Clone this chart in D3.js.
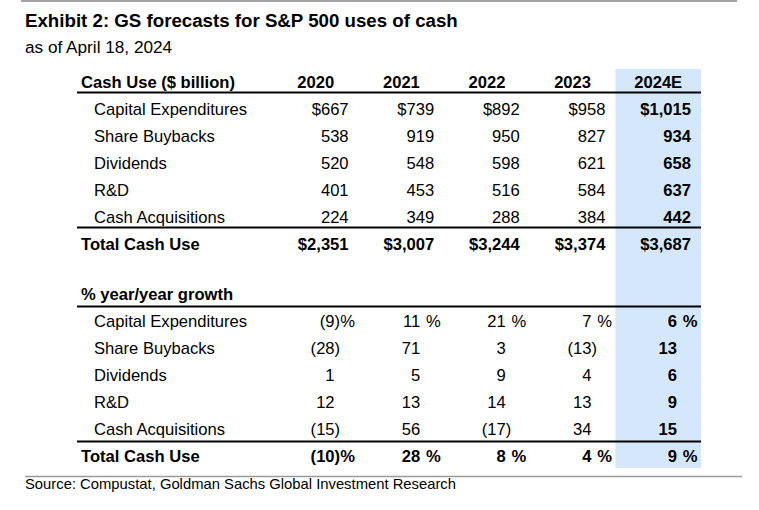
<!DOCTYPE html>
<html><head><meta charset="utf-8">
<script src="https://cdn.jsdelivr.net/npm/d3@7"></script>
<style>body{margin:0;background:#fff}svg{display:block}</style></head>
<body><svg id="c" width="759" height="510"></svg>
<script>
const years = ["2020", "2021", "2022", "2023", "2024E"];
const categories = ["Capital Expenditures", "Share Buybacks", "Dividends", "R&D", "Cash Acquisitions"];
// Cash use ($ billion)
const capex = [667, 739, 892, 958, 1015];
const buybacks = [538, 919, 950, 827, 934];
const dividends = [520, 548, 598, 621, 658];
const rnd = [401, 453, 516, 584, 637];
const acquisitions = [224, 349, 288, 384, 442];
const totals = [2351, 3007, 3244, 3374, 3687];
// % year/year growth
const capexGrowth = [-9, 11, 21, 7, 6];
const buybacksGrowth = [-28, 71, 3, -13, 13];
const dividendsGrowth = [1, 5, 9, 4, 6];
const rndGrowth = [12, 13, 14, 13, 9];
const acquisitionsGrowth = [-15, 56, -17, 34, 15];
const totalGrowth = [-10, 28, 8, 4, 9];

const cashRows = [capex, buybacks, dividends, rnd, acquisitions];
const growthRows = [capexGrowth, buybacksGrowth, dividendsGrowth, rndGrowth, acquisitionsGrowth];

const FONT = "'Liberation Sans', Arial, sans-serif";
const FS = 16.6;
const svg = d3.select("#c");
const fmt = d3.format(",");

const x = d3.scaleBand().domain(years).range([273, 701]);
const bw = x.bandwidth();
const rowKeys = ["head", ...categories, "Total"];
const yCash = d3.scalePoint().domain(rowKeys).range([88, 250]);
const yGrowth = d3.scalePoint().domain(rowKeys).range([300, 462]);

// highlight column
svg.append("rect")
  .attr("x", x("2024E")).attr("width", bw)
  .attr("y", 69).attr("height", 399)
  .attr("fill", "#d5e8fb");

// frame lines
svg.append("line").attr("x1", 21).attr("x2", 737).attr("y1", 1).attr("y2", 1)
  .attr("stroke", "#a3a3a3").attr("stroke-width", 2);
svg.append("line").attr("x1", 25).attr("x2", 742).attr("y1", 476.5).attr("y2", 476.5)
  .attr("stroke", "#9a9a9a").attr("stroke-width", 1.5);

function txt(t, px, py, opts = {}) {
  return svg.append("text")
    .attr("x", px).attr("y", py)
    .attr("font-family", FONT)
    .attr("font-size", opts.size || FS)
    .attr("font-weight", opts.bold ? "bold" : "normal")
    .attr("text-anchor", opts.anchor || "start")
    .attr("fill", "#000")
    .text(t);
}

// titles
txt("Exhibit 2: GS forecasts for S&P 500 uses of cash", 25, 27, {size: 18.7, bold: true});
txt("as of April 18, 2024", 25, 53, {size: 17.2});
txt("Source: Compustat, Goldman Sachs Global Investment Research", 25, 489, {size: 14.8});

function hline(y) {
  svg.append("line").attr("x1", 77).attr("x2", 701).attr("y1", y).attr("y2", y)
    .attr("stroke", "#000").attr("stroke-width", 2);
}

// ---- Cash use section ----
txt("Cash Use ($ billion)", 81, yCash("head"), {bold: true});
years.forEach(yr => txt(yr, x(yr) + bw / 2, yCash("head"), {bold: true, anchor: "middle"}));
hline(yCash("head") + 4.5);
categories.forEach((c, i) => {
  txt(c, 94, yCash(c));
  cashRows[i].forEach((v, j) => {
    const s = (i === 0 ? "$" : "") + fmt(v);
    txt(s, x(years[j]) + bw - 10, yCash(c), {anchor: "end", bold: years[j] === "2024E"});
  });
});
hline(yCash("Total") - 22.5);
txt("Total Cash Use", 81, yCash("Total"), {bold: true});
totals.forEach((v, j) => txt("$" + fmt(v), x(years[j]) + bw - 10, yCash("Total"), {anchor: "end", bold: true}));

// ---- Growth section ----
function growthCell(v, yr, py, withPct, bold) {
  const right = x(yr) + bw;
  const dx = right - 24;
  const n = Math.abs(v);
  txt((v < 0 ? "(" : "") + n, dx, py, {anchor: "end", bold});
  if (v < 0) txt(")", dx, py, {anchor: "start", bold});
  if (withPct) txt("%", right - 3.5, py, {anchor: "end", bold});
}
txt("% year/year growth", 81, yGrowth("head"), {bold: true});
hline(yGrowth("head") + 6.5);
categories.forEach((c, i) => {
  txt(c, 94, yGrowth(c));
  growthRows[i].forEach((v, j) => growthCell(v, years[j], yGrowth(c), i === 0, years[j] === "2024E"));
});
hline(yGrowth("Total") - 20.5);
txt("Total Cash Use", 81, yGrowth("Total"), {bold: true});
totalGrowth.forEach((v, j) => growthCell(v, years[j], yGrowth("Total"), true, true));
</script>
</body></html>
